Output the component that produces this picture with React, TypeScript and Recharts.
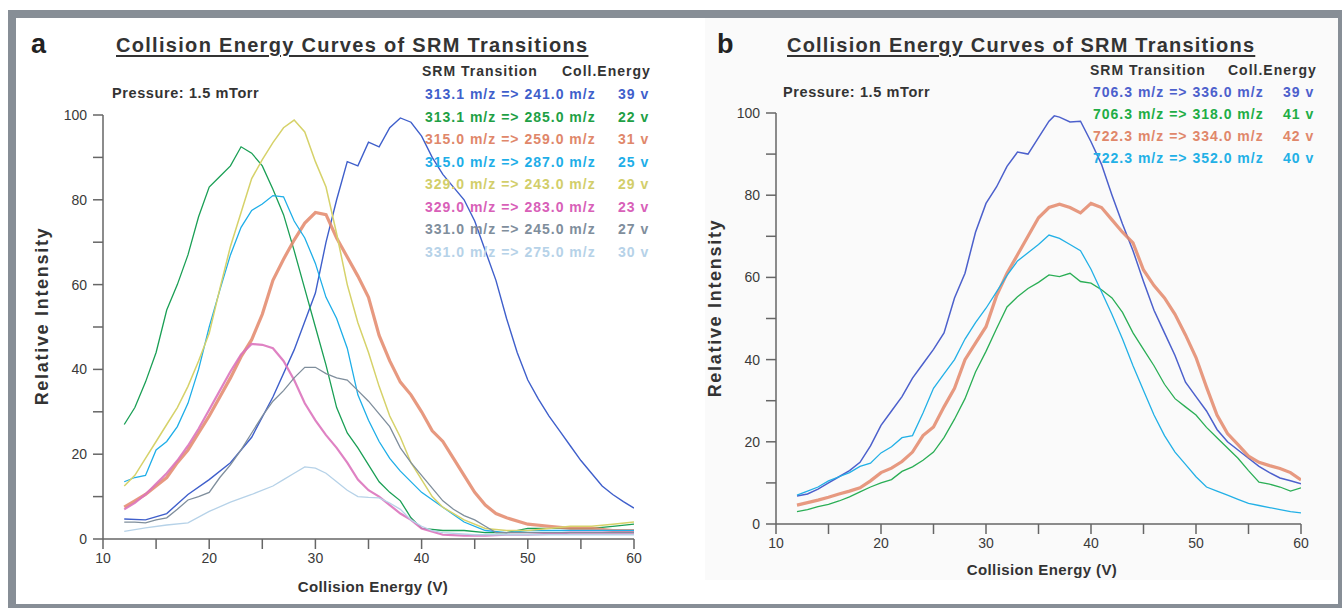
import React from 'react';
import { LineChart, Line, XAxis, YAxis } from 'recharts';

// ---------- Panel a data: [collision energy (V), relative intensity] ----------
const A_313_241: [number, number][] = [[12,4.7],[14,4.5],[16,6],[18,10.5],[20,14],[22,18],[24,24],[26,33.5],[28,44.6],[30,58],[31,70],[32,80],[33,89],[34,88],[35,93.6],[36,92.5],[37,97],[38,99.3],[39,98.3],[40,95],[41,90],[42,86],[43,83],[44,80],[45,75],[46,68],[47,61],[48,52],[49,44],[50,37.5],[51,33],[52,29],[53,25.5],[54,22],[55,18.5],[56,15.5],[57,12.5],[58,10.5],[59,8.8],[60,7.3]];
const A_313_285: [number, number][] = [[12,27],[13,31],[14,37],[15,44],[16,54],[17,60],[18,67],[19,76],[20,83],[21,85.5],[22,88],[23,92.5],[24,91],[25,88],[26,82.5],[27,76.5],[28,68],[29,59],[30,50],[31,41],[32,31],[33,25],[34,21.5],[35,17.5],[36,13.5],[37,11],[38,9],[39,5],[40,2.5],[42,2],[44,2],[46,1.5],[48,1.5],[50,2.5],[52,2.5],[54,2.5],[56,2.5],[58,3],[60,3.5]];
const A_315_259: [number, number][] = [[12,7.5],[13,9],[14,10.5],[15,12.5],[16,14.5],[17,18],[18,21],[19,25],[20,29],[21,33.5],[22,38],[23,43],[24,47],[25,53],[26,61],[27,66],[28,70.5],[29,74.5],[30,77],[31,76.5],[32,71],[33,66.5],[34,62],[35,57],[36,48],[37,42],[38,37],[39,34],[40,30],[41,25.5],[42,23],[43,19],[44,15],[45,11],[46,8],[47,6],[48,5],[50,3.5],[52,3],[54,2.5],[56,2.5],[58,2],[60,2]];
const A_315_287: [number, number][] = [[12,13.5],[13,14.5],[14,15],[15,21],[16,23],[17,26.5],[18,32],[19,40],[20,50],[21,58.7],[22,67],[23,73.5],[24,77.5],[25,79],[26,81],[27,80.7],[28,75],[29,71],[30,65],[31,57],[32,52],[33,45],[34,34],[35,28],[36,23],[37,19],[38,16],[40,11],[42,7.5],[44,4],[46,2],[48,1.5],[50,2],[52,2],[54,2],[56,2],[58,2],[60,2]];
const A_329_243: [number, number][] = [[12,12.5],[13,15],[14,19],[15,23],[16,27],[17,31],[18,36],[19,42],[20,48.5],[21,59],[22,69],[23,77],[24,85],[25,89.5],[26,93.5],[27,97],[28,98.8],[29,96],[30,89],[31,83],[32,72],[33,60],[34,51],[35,44],[36,36],[37,29],[38,24],[39,18],[40,14],[41,10],[42,7.5],[44,4.5],[46,2.5],[48,2],[50,2],[52,2.5],[54,3],[56,3],[58,3.5],[60,4]];
const A_329_283: [number, number][] = [[12,7],[13,8.5],[14,10.5],[15,13],[16,15.5],[17,18.5],[18,22],[19,26],[20,30.5],[21,35],[22,39.5],[23,43.5],[24,46],[25,45.8],[26,45],[27,42],[28,37.5],[29,32],[30,28],[31,24.5],[32,21.5],[33,18],[34,14],[35,11.5],[36,10],[37,8],[38,6],[39,4.5],[40,2.5],[42,1],[44,0.8],[46,0.8],[48,1],[50,1],[52,1.2],[54,1.5],[56,1.5],[58,1.5],[60,1.5]];
const A_331_245: [number, number][] = [[12,4],[13,4],[14,3.8],[15,4.5],[16,5],[17,7],[18,9.2],[19,10],[20,11],[21,14.5],[22,17.5],[23,21],[24,25],[25,29],[26,32.5],[27,35],[28,38],[29,40.5],[30,40.5],[31,39],[32,38],[33,37.5],[34,35],[35,32.5],[36,29.5],[37,26.5],[38,21.5],[39,18],[40,15],[41,12],[42,9],[43,7],[44,5.5],[45,4.5],[46,3],[47,1.5],[50,1.5],[55,1.5],[60,1.5]];
const A_331_275: [number, number][] = [[12,1.8],[14,2.6],[16,3.3],[18,3.8],[20,6.5],[22,8.7],[24,10.5],[26,12.5],[27,14],[28,15.5],[29,17],[30,16.7],[31,15.5],[32,13.5],[33,11.5],[34,10],[35,9.8],[36,9.7],[37,8.5],[38,7],[39,4.5],[40,3],[41,2],[42,1.5],[45,1],[50,1],[55,1],[60,1]];

// ---------- Panel b data ----------
const B_706_336: [number, number][] = [[12,6.8],[13,7.3],[14,8.5],[15,10],[16,11.5],[17,13],[18,15],[19,19],[20,24],[21,27.5],[22,31],[23,35.5],[24,39],[25,42.5],[26,46.5],[27,55],[28,61],[29,71],[30,78],[31,82],[32,87],[33,90.5],[34,90],[35,94],[36,98],[36.5,99.3],[37,99],[38,97.8],[39,98],[40,93],[41,87.5],[42,80],[43,73],[44,66.5],[45,59],[46,52],[47,46.5],[48,41],[49,34.5],[50,31],[51,27.5],[52,23],[53,20],[54,18],[55,16],[56,14],[57,12.5],[58,11.2],[59,10.5],[60,9.8]];
const B_706_318: [number, number][] = [[12,3],[13,3.5],[14,4.2],[15,4.8],[16,5.6],[17,6.6],[18,7.8],[19,9],[20,10],[21,10.8],[22,12.8],[23,13.9],[24,15.5],[25,17.5],[26,21],[27,25.5],[28,30.5],[29,37],[30,42],[31,47.5],[32,52.8],[33,55.3],[34,57.3],[35,58.8],[36,60.6],[37,60.2],[38,61],[39,59],[40,58.6],[41,57],[42,55],[43,51.5],[44,46.5],[45,42.5],[46,38.5],[47,34],[48,30.5],[49,28.5],[50,26.5],[51,23.5],[52,21],[53,18.5],[54,16],[55,13],[56,10.2],[57,9.7],[58,9],[59,8],[60,8.8]];
const B_722_334: [number, number][] = [[12,4.6],[13,5.2],[14,5.8],[15,6.5],[16,7.3],[17,8],[18,8.8],[19,10.5],[20,12.5],[21,13.6],[22,15.2],[23,17.5],[24,21.5],[25,23.6],[26,28.5],[27,33],[28,40],[29,44],[30,48],[31,55.5],[32,61],[33,65.5],[34,70],[35,74.5],[36,77],[37,77.8],[38,77],[39,75.7],[40,78],[41,77],[42,74],[43,71],[44,68.4],[45,61.8],[46,58],[47,55],[48,51],[49,46],[50,40.5],[51,33.3],[52,26.5],[53,22],[54,19.3],[55,16.5],[56,15],[57,14.2],[58,13.5],[59,12.5],[60,10.7]];
const B_722_352: [number, number][] = [[12,7],[13,8],[14,9],[15,10.5],[16,11.5],[17,12.5],[18,14],[19,14.8],[20,17.3],[21,18.8],[22,21],[23,21.5],[24,27],[25,33],[26,36.5],[27,40],[28,45],[29,49],[30,52.5],[31,56.5],[32,60.5],[33,64],[34,66],[35,68],[36,70.3],[37,69.5],[38,68],[39,66.5],[40,62],[41,56.5],[42,51],[43,45],[44,38.5],[45,32.5],[46,26.5],[47,21.5],[48,17.5],[49,14.5],[50,11.5],[51,9],[52,8],[53,7],[54,6],[55,5],[56,4.5],[57,4],[58,3.5],[59,3],[60,2.7]];

const ENERGY_TICKS = [10, 15, 20, 25, 30, 35, 40, 45, 50, 55, 60];
const INTENSITY_TICKS = [0, 10, 20, 30, 40, 50, 60, 70, 80, 90, 100];

const LEGEND_A_TRANSITIONS = ['313.1 m/z => 241.0 m/z', '313.1 m/z => 285.0 m/z', '315.0 m/z => 259.0 m/z', '315.0 m/z => 287.0 m/z', '329.0 m/z => 243.0 m/z', '329.0 m/z => 283.0 m/z', '331.0 m/z => 245.0 m/z', '331.0 m/z => 275.0 m/z'];
const LEGEND_A_ENERGY = ['39 v', '22 v', '31 v', '25 v', '29 v', '23 v', '27 v', '30 v'];
const LEGEND_B_TRANSITIONS = ['706.3 m/z => 336.0 m/z', '706.3 m/z => 318.0 m/z', '722.3 m/z => 334.0 m/z', '722.3 m/z => 352.0 m/z'];
const LEGEND_B_ENERGY = ['39 v', '41 v', '42 v', '40 v'];

const toPts = (arr: [number, number][]) => arr.map(([x, y]) => ({ x, y }));

const SERIES_A = [
  { data: A_313_241, color: '#3f5fcb', width: 1.4, opacity: 1 },
  { data: A_313_285, color: '#1a9f55', width: 1.3, opacity: 1 },
  { data: A_315_259, color: '#e3876a', width: 3.2, opacity: 0.85 },
  { data: A_315_287, color: '#1eaee8', width: 1.3, opacity: 1 },
  { data: A_329_243, color: '#d6d26a', width: 1.5, opacity: 1 },
  { data: A_329_283, color: '#dc74bc', width: 2.2, opacity: 0.9 },
  { data: A_331_245, color: '#7f8e9c', width: 1.3, opacity: 1 },
  { data: A_331_275, color: '#b6d2e8', width: 1.3, opacity: 1 },
];
const LEGEND_A_COLORS = ['#3f5fcb', '#1ea045', '#e0876a', '#1eaee8', '#d2ce6a', '#d860b8', '#7f8e9c', '#b6d2e8'];

const SERIES_B = [
  { data: B_706_336, color: '#4c60cc', width: 1.5, opacity: 1 },
  { data: B_706_318, color: '#2aae55', width: 1.3, opacity: 1 },
  { data: B_722_334, color: '#e3876a', width: 3.2, opacity: 0.85 },
  { data: B_722_352, color: '#22b0e6', width: 1.3, opacity: 1 },
];
const LEGEND_B_COLORS = ['#4c60cc', '#20ad45', '#e0876a', '#22b0e6'];

const FONT = '"Liberation Sans", Arial, Helvetica, sans-serif';

const T: React.FC<{ x: number; y: number; size: number; color?: string; bold?: boolean; anchor?: 'start' | 'middle'; ls?: number; underline?: boolean; rotate?: boolean; children: React.ReactNode }> = ({ x, y, size, color = '#333', bold = true, anchor = 'start', ls = 0, underline = false, rotate = false, children }) => (
  <div
    style={{
      position: 'absolute',
      left: x,
      top: y,
      fontSize: size,
      lineHeight: 1,
      color,
      fontWeight: bold ? 700 : 400,
      letterSpacing: ls,
      whiteSpace: 'nowrap',
      textDecoration: underline ? 'underline' : 'none',
      textUnderlineOffset: 3,
      transform: rotate ? 'translate(-50%, -50%) rotate(-90deg)' : anchor === 'middle' ? 'translate(-50%, -50%)' : 'translateY(-50%)',
    }}
  >
    {children}
  </div>
);

const fmtX = (v: number) => (v % 10 === 0 ? String(v) : '');
const fmtY = (v: number) => (v % 20 === 0 ? String(v) : '');

const axisStyle = { stroke: '#666', strokeWidth: 1.5 };
const tickStyle = { fill: '#3a3a3a', fontSize: 14, fontFamily: FONT };

function Panel({ series, width, margin }: { series: typeof SERIES_A; width: number; margin: { top: number; right: number; bottom: number; left: number } }) {
  return (
    <LineChart width={width} height={608} margin={margin}>
      <XAxis
        type="number"
        dataKey="x"
        domain={[10, 60]}
        ticks={ENERGY_TICKS}
        tickFormatter={fmtX}
        axisLine={axisStyle}
        tickLine={axisStyle}
        tickSize={10}
        tickMargin={4}
        tick={tickStyle}
        height={30}
        allowDataOverflow
      />
      <YAxis
        type="number"
        dataKey="y"
        domain={[0, 100]}
        ticks={INTENSITY_TICKS}
        tickFormatter={fmtY}
        axisLine={axisStyle}
        tickLine={axisStyle}
        tickSize={10}
        tickMargin={6}
        tick={tickStyle}
        width={40}
        allowDataOverflow
      />
      {series.map((s, i) => (
        <Line
          key={i}
          data={toPts(s.data)}
          dataKey="y"
          type="linear"
          stroke={s.color}
          strokeWidth={s.width}
          strokeOpacity={s.opacity}
          dot={false}
          activeDot={false}
          isAnimationActive={false}
        />
      ))}
    </LineChart>
  );
}

export default function App() {
  return (
    <div style={{ position: 'fixed', left: 0, top: 0, width: 1342, height: 608, background: '#fff', fontFamily: FONT, overflow: 'hidden' }}>
      <div style={{ position: 'absolute', left: 8, top: 10, width: 1334, height: 598, background: '#878e96' }} />
      <div style={{ position: 'absolute', left: 16, top: 18, width: 1322, height: 586, background: '#fff' }} />
      <div style={{ position: 'absolute', left: 705, top: 18, width: 633, height: 562, background: '#fafafa' }} />

      <div style={{ position: 'absolute', left: 0, top: 0 }}>
        <Panel series={SERIES_A} width={690} margin={{ top: 115, right: 56, bottom: 39, left: 63 }} />
      </div>
      <div style={{ position: 'absolute', left: 690, top: 0 }}>
        <Panel series={SERIES_B} width={652} margin={{ top: 113, right: 41, bottom: 54, left: 46 }} />
      </div>

      {/* Panel a texts */}
      <T x={31} y={44} size={27} color="#222">a</T>
      <T x={116} y={45} size={20} ls={1.3} underline>Collision Energy Curves of SRM Transitions</T>
      <T x={112} y={93} size={14.5} ls={0.6}>Pressure: 1.5 mTorr</T>
      <T x={422} y={71} size={14} ls={1}>SRM Transition</T>
      <T x={562} y={71} size={14} ls={1}>Coll.Energy</T>
      {LEGEND_A_TRANSITIONS.map((t, i) => (
        <React.Fragment key={i}>
          <T x={425} y={94 + i * 22.5} size={14} ls={1} color={LEGEND_A_COLORS[i]}>{t}</T>
          <T x={618} y={94 + i * 22.5} size={14} ls={1} color={LEGEND_A_COLORS[i]}>{LEGEND_A_ENERGY[i]}</T>
        </React.Fragment>
      ))}
      <T x={42} y={316} size={18} ls={1.7} rotate>Relative Intensity</T>
      <T x={373} y={586} size={15} ls={0.4} anchor="middle">Collision Energy (V)</T>

      {/* Panel b texts */}
      <T x={717} y={44} size={27} color="#222">b</T>
      <T x={787} y={45} size={20} ls={1.2} underline>Collision Energy Curves of SRM Transitions</T>
      <T x={783} y={92} size={14.5} ls={0.6}>Pressure: 1.5 mTorr</T>
      <T x={1090} y={70} size={14} ls={1}>SRM Transition</T>
      <T x={1228} y={70} size={14} ls={1}>Coll.Energy</T>
      {LEGEND_B_TRANSITIONS.map((t, i) => (
        <React.Fragment key={i}>
          <T x={1093} y={92 + i * 22} size={14} ls={1} color={LEGEND_B_COLORS[i]}>{t}</T>
          <T x={1283} y={92 + i * 22} size={14} ls={1} color={LEGEND_B_COLORS[i]}>{LEGEND_B_ENERGY[i]}</T>
        </React.Fragment>
      ))}
      <T x={715} y={308} size={18} ls={1.7} rotate>Relative Intensity</T>
      <T x={1042} y={569} size={15} ls={0.4} anchor="middle">Collision Energy (V)</T>
    </div>
  );
}
